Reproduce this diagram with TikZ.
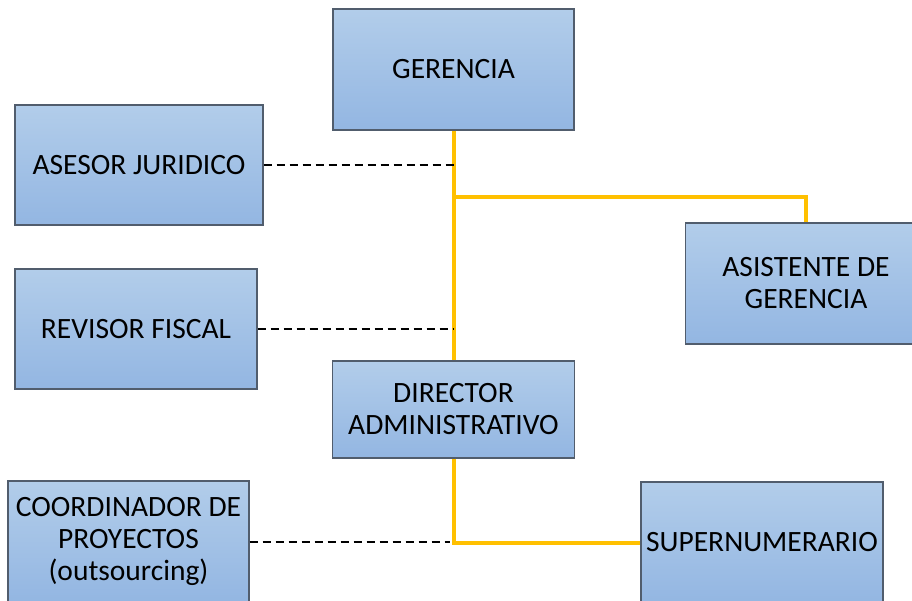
\documentclass[tikz,border=0pt]{standalone}
\usepackage{fontspec}
\setmainfont{Carlito}
\definecolor{boxtop}{HTML}{B2CDEA}
\definecolor{boxbot}{HTML}{93B6E2}
\definecolor{boxborder}{HTML}{515D6D}
\definecolor{yel}{HTML}{FFC000}
\begin{document}
\begin{tikzpicture}[x=1pt,y=-1pt,
  box/.style={draw=boxborder, line width=1.2pt, top color=boxtop, bottom color=boxbot,
    minimum width=241pt, minimum height=121pt, inner sep=0pt, align=center,
    font=\fontsize{29.5}{32}\selectfont},
  yelline/.style={draw=yel, line width=4pt},
  dsh/.style={draw=black, line width=2pt, dash pattern=on 8pt off 5pt}]
\useasboundingbox (0,0) rectangle (912,601);
\clip (0,0) rectangle (912,601);
\node[box] (ger) at (453.5,69.5) {GERENCIA};
\node[box, minimum width=248pt, minimum height=120pt] (ase) at (139,165) {ASESOR JURIDICO};
\node[box, minimum width=242pt, minimum height=120pt] (rev) at (136,329) {REVISOR FISCAL};
\node[box] (asi) at (806,283.5) {ASISTENTE DE\\GERENCIA};
\node[box, minimum width=242pt, minimum height=97pt] (dir) at (453.5,409.5) {DIRECTOR\\ADMINISTRATIVO};
\node[box] (coo) at (128.5,541.5) {COORDINADOR DE\\PROYECTOS\\(outsourcing)};
\node[box, minimum width=242pt] (sup) at (762,542.5) {SUPERNUMERARIO};
\coordinate (j1) at (453.5,197);
\draw[yelline] (ger.south) -- (dir.north);
\draw[yelline] (j1) -| (asi.north);
\draw[yelline] (dir.south) |- (sup.west);
\draw[dsh] (ase.east) -- (ase.east -| ger.south);
\draw[dsh] (rev.east) -- (rev.east -| ger.south);
\draw[dsh] (coo.east) -- ([xshift=-4pt]coo.east -| dir.south);
\end{tikzpicture}
\end{document}
